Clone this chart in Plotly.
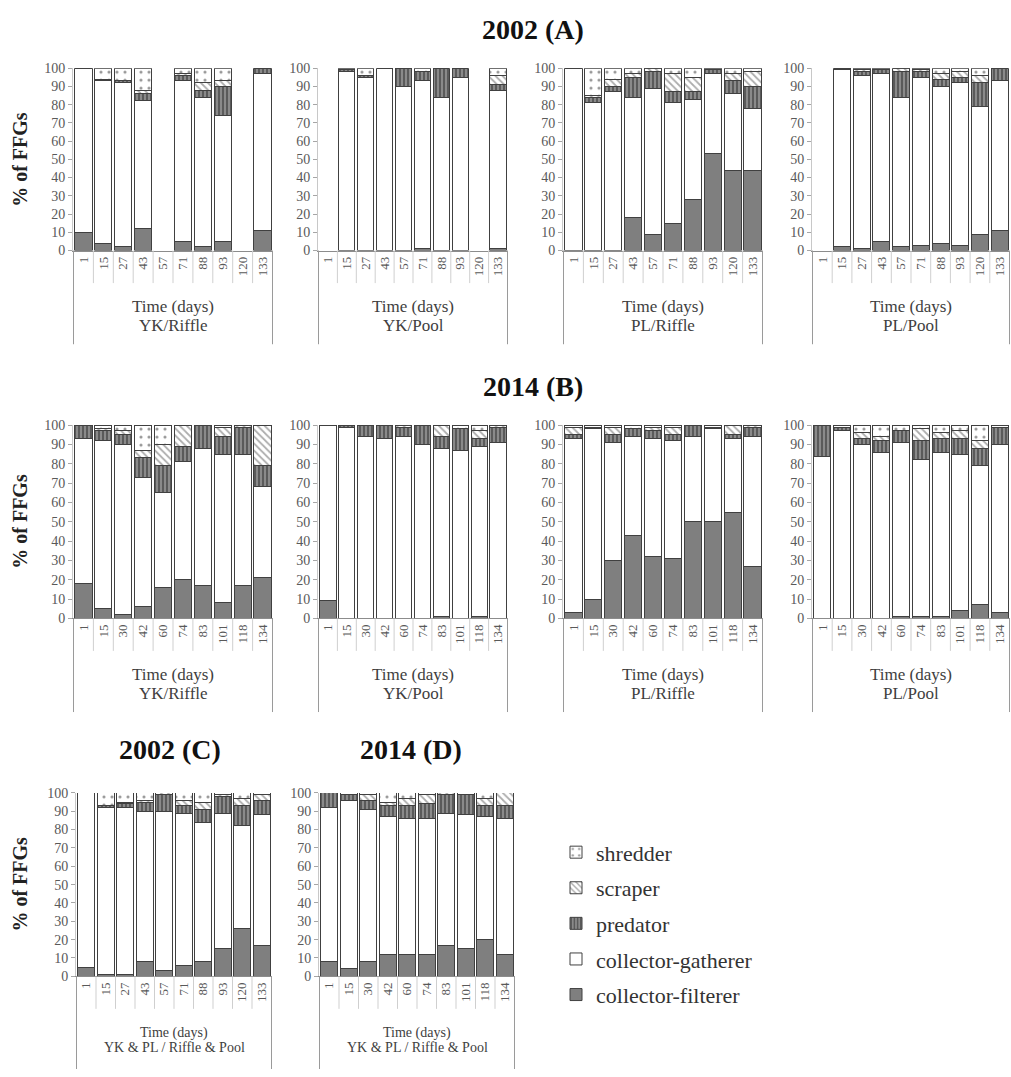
import plotly.graph_objects as go

# ---------------- data ----------------
days_2002 = ["1", "15", "27", "43", "57", "71", "88", "93", "120", "133"]
days_2014 = ["1", "15", "30", "42", "60", "74", "83", "101", "118", "134"]
ffg_names = ["collector-filterer", "collector-gatherer", "predator", "scraper", "shredder"]

# 2002 (A) YK/Riffle
a_ykr_filterer = [10, 4, 2, 12, None, 5, 2, 5, None, 11]
a_ykr_gatherer = [90, 89, 90, 70, None, 88, 82, 69, None, 86]
a_ykr_predator = [0, 1, 1, 4, None, 3, 4, 16, None, 3]
a_ykr_scraper = [0, 0, 0, 2, None, 1, 4, 3, None, 0]
a_ykr_shredder = [0, 6, 7, 12, None, 3, 8, 7, None, 0]
# 2002 (A) YK/Pool
a_ykp_filterer = [None, 0, 0, 0, 0, 1, 0, 0, None, 1]
a_ykp_gatherer = [None, 98, 95, 100, 90, 92, 84, 95, None, 87]
a_ykp_predator = [None, 1, 1, 0, 10, 5, 16, 5, None, 3]
a_ykp_scraper = [None, 0, 0, 0, 0, 0, 0, 0, None, 5]
a_ykp_shredder = [None, 1, 4, 0, 0, 2, 0, 0, None, 4]
# 2002 (A) PL/Riffle
a_plr_filterer = [0, 0, 0, 18, 9, 15, 28, 53, 44, 44]
a_plr_gatherer = [100, 81, 87, 66, 80, 66, 55, 44, 42, 34]
a_plr_predator = [0, 3, 3, 11, 9, 6, 4, 2, 7, 12]
a_plr_scraper = [0, 1, 4, 2, 2, 10, 8, 0, 4, 8]
a_plr_shredder = [0, 15, 6, 3, 0, 3, 5, 1, 3, 2]
# 2002 (A) PL/Pool
a_plp_filterer = [None, 2, 1, 5, 2, 3, 4, 3, 9, 11]
a_plp_gatherer = [None, 97, 95, 92, 82, 92, 86, 89, 70, 82]
a_plp_predator = [None, 1, 2, 2, 14, 3, 4, 3, 13, 7]
a_plp_scraper = [None, 0, 1, 0, 2, 1, 3, 3, 4, 0]
a_plp_shredder = [None, 0, 1, 1, 0, 1, 3, 2, 4, 0]
# 2014 (B) YK/Riffle
b_ykr_filterer = [18, 5, 2, 6, 16, 20, 17, 8, 17, 21]
b_ykr_gatherer = [75, 87, 88, 67, 49, 61, 71, 77, 68, 47]
b_ykr_predator = [7, 5, 5, 10, 14, 8, 12, 9, 14, 11]
b_ykr_scraper = [0, 1, 2, 4, 11, 11, 0, 5, 1, 21]
b_ykr_shredder = [0, 2, 3, 13, 10, 0, 0, 1, 0, 0]
# 2014 (B) YK/Pool
b_ykp_filterer = [9, 0, 0, 0, 0, 0, 1, 0, 1, 0]
b_ykp_gatherer = [91, 99, 94, 93, 94, 90, 87, 87, 88, 91]
b_ykp_predator = [0, 1, 6, 7, 5, 10, 6, 11, 4, 8]
b_ykp_scraper = [0, 0, 0, 0, 1, 0, 6, 0, 4, 1]
b_ykp_shredder = [0, 0, 0, 0, 0, 0, 0, 2, 3, 0]
# 2014 (B) PL/Riffle
b_plr_filterer = [3, 10, 30, 43, 32, 31, 50, 50, 55, 27]
b_plr_gatherer = [90, 88, 61, 51, 61, 61, 44, 48, 38, 67]
b_plr_predator = [2, 1, 4, 4, 4, 3, 6, 1, 2, 5]
b_plr_scraper = [4, 0, 4, 0, 2, 4, 0, 0, 5, 1]
b_plr_shredder = [1, 1, 1, 2, 1, 1, 0, 1, 0, 0]
# 2014 (B) PL/Pool
b_plp_filterer = [0, 0, 0, 0, 1, 1, 1, 4, 7, 3]
b_plp_gatherer = [84, 97, 90, 86, 90, 81, 85, 81, 72, 87]
b_plp_predator = [16, 2, 3, 6, 6, 10, 7, 8, 9, 9]
b_plp_scraper = [0, 0, 3, 2, 0, 6, 3, 4, 4, 0]
b_plp_shredder = [0, 1, 4, 6, 3, 2, 4, 3, 8, 1]
# 2002 (C) pooled
c_all_filterer = [5, 1, 1, 8, 3, 6, 8, 15, 26, 17]
c_all_gatherer = [95, 91, 91, 82, 87, 83, 76, 74, 56, 71]
c_all_predator = [0, 1, 2, 5, 9, 4, 7, 9, 11, 8]
c_all_scraper = [0, 0, 1, 1, 1, 3, 4, 1, 4, 3]
c_all_shredder = [0, 7, 5, 4, 0, 4, 5, 1, 3, 1]
# 2014 (D) pooled
d_all_filterer = [8, 4, 8, 12, 12, 12, 17, 15, 20, 12]
d_all_gatherer = [84, 92, 83, 75, 74, 74, 72, 73, 67, 74]
d_all_predator = [8, 3, 5, 6, 7, 8, 10, 11, 6, 7]
d_all_scraper = [0, 0, 3, 2, 4, 5, 1, 0, 4, 7]
d_all_shredder = [0, 1, 1, 5, 3, 1, 0, 1, 3, 0]

# ---------------- layout helpers ----------------
W, H = 1011, 1077
SERIF = "Liberation Serif, Times New Roman, Times, serif"


def px(x):
    return x / W


def py(y):
    return 1 - y / H


panels = [
    (days_2002, [a_ykr_filterer, a_ykr_gatherer, a_ykr_predator, a_ykr_scraper, a_ykr_shredder], (73, 273), (62, 247), "YK/Riffle", 342, 17),
    (days_2002, [a_ykp_filterer, a_ykp_gatherer, a_ykp_predator, a_ykp_scraper, a_ykp_shredder], (318, 508), (62, 247), "YK/Pool", 342, 17),
    (days_2002, [a_plr_filterer, a_plr_gatherer, a_plr_predator, a_plr_scraper, a_plr_shredder], (563, 763), (62, 247), "PL/Riffle", 342, 17),
    (days_2002, [a_plp_filterer, a_plp_gatherer, a_plp_predator, a_plp_scraper, a_plp_shredder], (812, 1010), (62, 247), "PL/Pool", 342, 17),
    (days_2014, [b_ykr_filterer, b_ykr_gatherer, b_ykr_predator, b_ykr_scraper, b_ykr_shredder], (73, 273), (424, 620), "YK/Riffle", 715, 17),
    (days_2014, [b_ykp_filterer, b_ykp_gatherer, b_ykp_predator, b_ykp_scraper, b_ykp_shredder], (318, 508), (424, 620), "YK/Pool", 715, 17),
    (days_2014, [b_plr_filterer, b_plr_gatherer, b_plr_predator, b_plr_scraper, b_plr_shredder], (563, 763), (424, 620), "PL/Riffle", 715, 17),
    (days_2014, [b_plp_filterer, b_plp_gatherer, b_plp_predator, b_plp_scraper, b_plp_shredder], (812, 1010), (424, 620), "PL/Pool", 715, 17),
    (days_2002, [c_all_filterer, c_all_gatherer, c_all_predator, c_all_scraper, c_all_shredder], (76, 272), (797, 983), "YK & PL / Riffle & Pool", 1077, 14),
    (days_2014, [d_all_filterer, d_all_gatherer, d_all_predator, d_all_scraper, d_all_shredder], (319, 515), (797, 983), "YK & PL / Riffle & Pool", 1077, 14),
]

LINE = dict(color="#404040", width=1)
styles = {
    "collector-filterer": dict(color="#7f7f7f", line=LINE),
    "collector-gatherer": dict(color="#ffffff", line=LINE),
    "predator": dict(color="#8a8a8a", line=LINE,
                     pattern=dict(shape="|", fgcolor="#1e1e1e", bgcolor="#8a8a8a", size=4, solidity=0.45)),
    "scraper": dict(color="#ffffff", line=LINE,
                    pattern=dict(shape="\\", fgcolor="#5a5a5a", bgcolor="#ffffff", size=5, solidity=0.35)),
    "shredder": dict(color="#ffffff", line=LINE,
                     pattern=dict(shape=".", fgcolor="#333333", bgcolor="#ffffff", size=8, solidity=0.12)),
}
legend_rank = {"shredder": 1, "scraper": 2, "predator": 3, "collector-gatherer": 4, "collector-filterer": 5}

fig = go.Figure()
layout = dict()
shapes = []
annotations = []

for k, (days, series, (xl, xr), (yt, yb), site, boxb, tfs) in enumerate(panels, start=1):
    xa = "x" if k == 1 else f"x{k}"
    ya = "y" if k == 1 else f"y{k}"
    for name, vals in zip(ffg_names, series):
        fig.add_trace(go.Bar(
            x=days, y=vals, name=name, xaxis=xa, yaxis=ya,
            marker=styles[name], legendgroup=name, showlegend=(k == 1),
            legendrank=legend_rank[name], width=0.86,
        ))
    xkey = "xaxis" if k == 1 else f"xaxis{k}"
    ykey = "yaxis" if k == 1 else f"yaxis{k}"
    layout[xkey] = dict(
        domain=[px(xl), px(xr)], anchor=ya, type="category",
        categoryorder="array", categoryarray=days,
        showline=True, linecolor="#8c8c8c", linewidth=1, ticks="",
        tickangle=-90, tickfont=dict(family=SERIF, size=13, color="#595959"),
        showgrid=False, fixedrange=True,
    )
    layout[ykey] = dict(
        domain=[py(yb), py(yt)], anchor=xa, range=[0, 100],
        tickmode="array", tickvals=list(range(0, 101, 10)),
        ticks="outside", ticklen=4, tickcolor="#a6a6a6",
        showline=True, linecolor="#c8c8c8", linewidth=1,
        showgrid=False, zeroline=False,
        tickfont=dict(family=SERIF, size=14, color="#595959"), fixedrange=True,
    )
    n = len(days)
    for i in range(n + 1):
        edge = i in (0, n)
        shapes.append(dict(
            type="line", xref=xa, yref="paper",
            x0=i - 0.5, x1=i - 0.5,
            y0=py(yb), y1=py(boxb if edge else yb + 33),
            line=dict(color="#9a9a9a" if edge else "#cfcfcf", width=1),
        ))
    cx = (xl + xr) / 2
    annotations.append(dict(text="Time (days)", x=px(cx), y=py(yb + 57), xref="paper", yref="paper",
                            showarrow=False, xanchor="center", yanchor="middle",
                            font=dict(family=SERIF, size=tfs, color="#404040")))
    annotations.append(dict(text=site, x=px(cx), y=py(yb + 76 if tfs > 15 else yb + 72),
                            xref="paper", yref="paper",
                            showarrow=False, xanchor="center", yanchor="middle",
                            font=dict(family=SERIF, size=tfs, color="#404040")))

for txt, x, y in [("2002 (A)", 533, 23), ("2014 (B)", 533, 385), ("2002 (C)", 170, 753), ("2014 (D)", 411, 753)]:
    annotations.append(dict(text=f"<b>{txt}</b>", x=px(x), y=py(y), xref="paper", yref="paper",
                            showarrow=False, xanchor="center", yanchor="middle",
                            font=dict(family=SERIF, size=28, color="#111111")))
for y in [155, 522, 890]:
    annotations.append(dict(text="<b>% of FFGs</b>", x=px(20), y=py(y), xref="paper", yref="paper",
                            showarrow=False, textangle=-90, xanchor="center", yanchor="middle",
                            font=dict(family=SERIF, size=20, color="#222222")))

fig.update_layout(
    **layout,
    width=W, height=H,
    margin=dict(l=0, r=0, t=0, b=0),
    paper_bgcolor="white", plot_bgcolor="white",
    barmode="stack", bargap=0.1,
    shapes=shapes, annotations=annotations,
    showlegend=True,
    legend=dict(x=px(556), y=py(836), xanchor="left", yanchor="top",
                traceorder="grouped", tracegroupgap=4,
                font=dict(family=SERIF, size=22, color="#333333"),
                bgcolor="rgba(0,0,0,0)", itemclick=False, itemdoubleclick=False),
)

fig.write_html("out.html")
